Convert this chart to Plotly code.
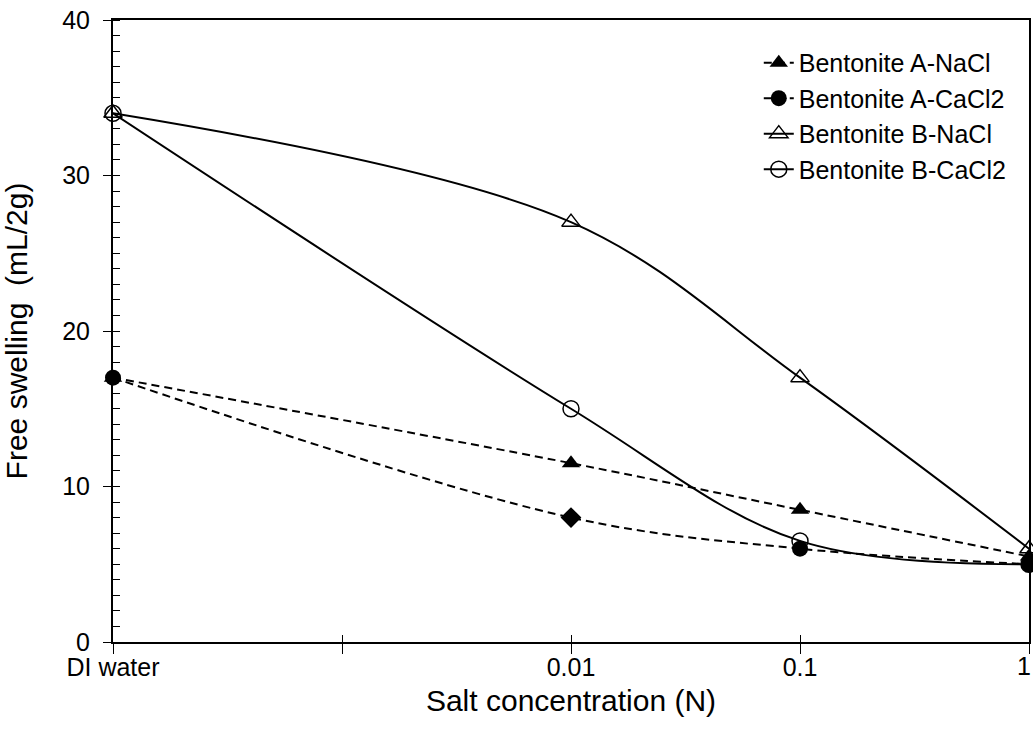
import plotly.graph_objects as go

x_pos = [0, 2, 3, 4]
tick_vals = [0, 1, 2, 3, 4]
tick_text = ["DI water", "", "0.01", "0.1", ""]
edge_tick_vals = [4]
edge_tick_text = ["1"]

a_nacl = [17, 11.5, 8.5, 5.5]
a_cacl2 = [17, 8, 6, 5]
b_nacl = [34, 27, 17, 6]
b_cacl2 = [34, 15, 6.5, 5]

FONT = "Liberation Sans, Arial, sans-serif"
FS = 25

fig = go.Figure()
common = dict(mode="lines+markers", cliponaxis=False)
fig.add_trace(go.Scatter(x=x_pos, y=a_nacl, name="Bentonite A-NaCl",
                         line=dict(color="black", width=2, dash="8px,5px", shape="spline"),
                         marker=dict(symbol="triangle-up", size=16, color="black", opacity=1), **common))
fig.add_trace(go.Scatter(x=x_pos, y=a_cacl2, name="Bentonite A-CaCl2",
                         line=dict(color="black", width=2, dash="8px,5px", shape="spline"),
                         marker=dict(symbol=["circle", "diamond", "circle", "circle"], size=16,
                                     color="black", opacity=1), **common))
fig.add_trace(go.Scatter(x=x_pos, y=b_nacl, name="Bentonite B-NaCl",
                         line=dict(color="black", width=2, shape="spline"),
                         marker=dict(symbol="triangle-up-open", size=16, color="black", opacity=1,
                                     line=dict(width=1.5, color="black")), **common))
fig.add_trace(go.Scatter(x=x_pos, y=b_cacl2, name="Bentonite B-CaCl2",
                         line=dict(color="black", width=2, shape="spline"),
                         marker=dict(symbol="circle-open", size=16, color="black", opacity=1,
                                     line=dict(width=1.5, color="black")), **common))

# overlay axes: inside x ticks (cross ticks) and the edge label "1"
fig.add_trace(go.Scatter(x=[0], y=[0], xaxis="x2", yaxis="y", showlegend=False,
                         mode="markers", marker=dict(opacity=0), hoverinfo="skip"))
fig.add_trace(go.Scatter(x=[0], y=[0], xaxis="x3", yaxis="y", showlegend=False,
                         mode="markers", marker=dict(opacity=0), hoverinfo="skip"))

fig.update_layout(
    width=1033, height=746,
    margin=dict(l=113, r=4, t=20, b=104, autoexpand=False),
    paper_bgcolor="white", plot_bgcolor="white",
    font=dict(family=FONT, size=FS, color="black"),
    showlegend=True,
    legend=dict(x=0.705, y=0.968, xanchor="left", yanchor="top",
                bgcolor="rgba(0,0,0,0)", font=dict(size=FS), tracegroupgap=0),
    xaxis=dict(range=[0, 4], tickvals=tick_vals, ticktext=tick_text,
               ticks="outside", ticklen=10, tickwidth=1, tickcolor="black",
               showline=True, linecolor="black", linewidth=2, mirror=True,
               showgrid=False, zeroline=False, ticklabelstandoff=-8,
               ticklabeloverflow="allow", automargin=False,
               title=dict(text="Salt concentration (N)", standoff=10),
               tickfont=dict(size=FS)),
    xaxis2=dict(range=[0, 4], overlaying="x", tickvals=tick_vals, showticklabels=False,
                ticks="inside", ticklen=7, tickwidth=1, tickcolor="black",
                showline=False, showgrid=False, zeroline=False, side="bottom",
                automargin=False),
    xaxis3=dict(range=[0, 4], overlaying="x", tickvals=edge_tick_vals, ticktext=edge_tick_text,
                ticks="outside", ticklen=10, tickwidth=1, tickcolor="rgba(0,0,0,0)",
                ticklabelstandoff=-8, ticklabelshift=-5, ticklabeloverflow="allow",
                showline=False, showgrid=False, zeroline=False, side="bottom",
                automargin=False, tickfont=dict(size=FS)),
    yaxis=dict(range=[0, 40], tickvals=[0, 10, 20, 30, 40],
               ticks="outside", ticklen=8, tickwidth=1, tickcolor="black",
               minor=dict(dtick=1, ticks="inside", ticklen=7, tickwidth=1, tickcolor="black"),
               showline=True, linecolor="black", linewidth=2, mirror=True,
               showgrid=False, zeroline=False, ticklabelstandoff=8,
               ticklabeloverflow="allow", automargin=False,
               title=dict(text="Free swelling  (mL/2g)", standoff=29),
               tickfont=dict(size=FS)),
)

fig.write_html("out.html", config={"displayModeBar": False},
               post_script="document.body.style.margin='0';document.body.style.padding='0';")
